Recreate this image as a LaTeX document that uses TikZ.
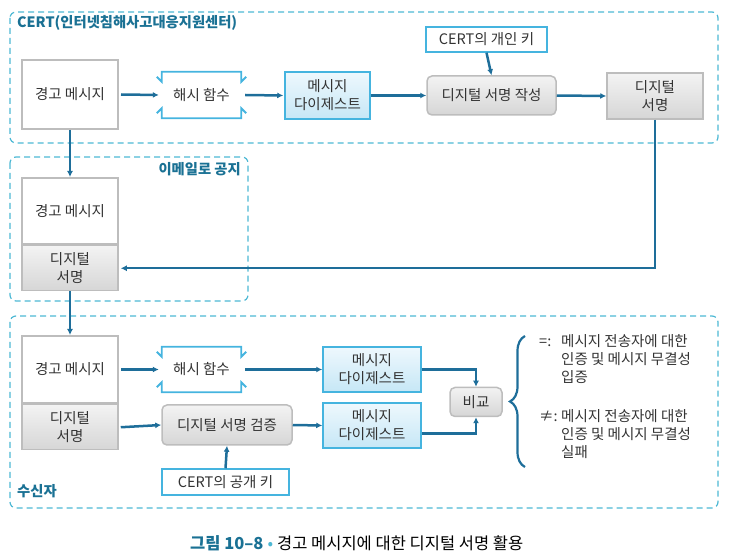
\documentclass[tikz,border=0pt]{standalone}
\usepackage{fontspec}
\setmainfont{Noto Sans CJK KR}
\usetikzlibrary{arrows.meta,calc,decorations.pathreplacing}
\definecolor{dashblue}{HTML}{4DB8D4}
\definecolor{arrowblue}{HTML}{1E6E9A}
\definecolor{titleteal}{HTML}{1A7194}
\definecolor{boxblue}{HTML}{45B4DF}
\definecolor{bluetop}{HTML}{EEF8FD}
\definecolor{bluebot}{HTML}{C6E7F6}
\definecolor{graytop}{HTML}{F3F3F3}
\definecolor{graybot}{HTML}{D6D6D6}
\definecolor{grayline}{HTML}{BDBDBD}
\definecolor{txt}{HTML}{333333}
\tikzset{
  base/.style={font=\fontsize{14.5}{18}\selectfont, text=txt, align=center, inner sep=0pt},
  whitebox/.style={base, draw=grayline, line width=2pt, fill=white},
  graybox/.style={base, draw=grayline, line width=1.5pt, top color=graytop, bottom color=graybot},
  grayround/.style={graybox, rounded corners=5pt},
  bluebox/.style={base, draw=boxblue, line width=1.5pt, top color=bluetop, bottom color=bluebot},
  keybox/.style={base, draw=boxblue, line width=1.5pt, fill=white},
  hashbox/.style={base},
  hashline/.style={draw=boxblue, line width=1.8pt},
  group/.style={draw=dashblue, line width=1.2pt, dash pattern=on 6pt off 4pt, rounded corners=6pt},
  grouptitle/.style={font=\fontsize{14.3}{16}\selectfont\bfseries, text=titleteal, inner sep=0pt},
  arr/.style={draw=arrowblue, line width=2.5pt, -{Latex[length=6pt,width=6pt]}},
}
\newcommand{\hashshape}[1]{%
  \draw[hashline] ($(#1.north west)+(-5,-5)$) -- ($(#1.north west)+(0,-10)$) -- (#1.north west) -- (#1.north east) -- ($(#1.north east)+(0,-10)$) -- ($(#1.north east)+(5,-5)$);
  \draw[hashline] ($(#1.south west)+(-5,5)$) -- ($(#1.south west)+(0,10)$) -- (#1.south west) -- (#1.south east) -- ($(#1.south east)+(0,10)$) -- ($(#1.south east)+(5,5)$);
}
\begin{document}
\begin{tikzpicture}[x=1pt,y=1pt]
\useasboundingbox (0,0) rectangle (732,-556);
% group frames
\draw[group] (10,-12) rectangle (718,-143);
\draw[group] (10,-157) rectangle (248,-301);
\draw[group] (10,-316) rectangle (718,-508);
\node[grouptitle, anchor=west] (t1) at (17,-23) {CERT(인터넷침해사고대응지원센터)};
\node[grouptitle, anchor=east] (t2) at (241,-169) {이메일로 공지};
\node[grouptitle, anchor=west] (t3) at (17,-491) {수신자};

% top row
\node[whitebox, minimum width=96pt, minimum height=69pt] (m1) at (70,-94.5) {경고 메시지};
\node[hashbox, minimum width=79pt, minimum height=46pt] (h1) at (201.5,-95) {해시 함수};
\hashshape{h1}
\node[bluebox, minimum width=85pt, minimum height=47pt] (d1) at (327.5,-95.5) {메시지\\다이제스트};
\node[keybox, minimum width=121pt, minimum height=25pt] (k1) at (486.5,-39.5) {CERT의 개인 키};
\node[grayround, minimum width=129pt, minimum height=39pt] (s1) at (491.5,-95.5) {디지털 서명 작성};
\node[graybox, minimum width=96pt, minimum height=46pt] (ds1) at (655,-96) {디지털\\서명};
\draw[arr] ($(m1.east)+(2,0)$) -- ($(h1.west)+(-3,0)$);
\draw[arr] ($(h1.east)+(4,0)$) -- ($(d1.west)+(-1,0)$);
\draw[arr] (d1.east) -- (s1.west);
\draw[arr] (s1.east) -- (ds1.west);
\draw[arr] (k1.south) -- (s1.north);

% email group
\node[whitebox, minimum width=96pt, minimum height=66pt] (m2) at (70,-211) {경고 메시지};
\node[graybox, minimum width=96pt, minimum height=45pt, anchor=north] (ds2) at (m2.south) {디지털\\서명};
\draw[arr] (m1.south) -- (m2.north);
\draw[arr] (ds1.south) |- ($(ds2.east)+(2,0)$);

% receiver group
\node[whitebox, minimum width=96pt, minimum height=67pt] (m3) at (70,-369.5) {경고 메시지};
\node[graybox, minimum width=96pt, minimum height=45pt, anchor=north] (ds3) at (m3.south) {디지털\\서명};
\draw[arr] (ds2.south) -- (m3.north);
\node[hashbox, minimum width=79pt, minimum height=45pt] (h3) at (201.5,-369.5) {해시 함수};
\hashshape{h3}
\node[grayround, minimum width=130pt, minimum height=40pt] (vf) at (227,-425) {디지털 서명 검증};
\node[keybox, minimum width=127pt, minimum height=26pt] (pk) at (225.5,-482) {CERT의 공개 키};
\node[bluebox, minimum width=98pt, minimum height=45pt] (d3a) at (372,-369.5) {메시지\\다이제스트};
\node[bluebox, minimum width=98pt, minimum height=45pt] (d3b) at (372,-425.5) {메시지\\다이제스트};
\node[grayround, minimum width=52pt, minimum height=29pt] (cmp) at (476,-402) {비교};
\draw[arr] ($(m3.east)+(2,0)$) -- ($(h3.west)+(-3,0)$);
\draw[arr] ($(h3.east)+(4,0)$) -- (d3a.west);
\draw[arr] ($(ds3.east)+(2,0)$) -- (vf.west);
\draw[arr] (vf.east) -- (d3b.west);
\draw[arr] (pk.north) -- (vf.south);
\draw[arr] (d3a.east) -| (cmp.north);
\coordinate (d3bout) at ($(d3b.east)+(0,-8)$);
\draw[arr] (d3bout) -| (cmp.south);

% brace and result text
\draw[draw=arrowblue, line width=2.2pt, decorate, decoration={brace, amplitude=15pt}] (525,-467) -- (525,-336);
\node[base, anchor=north west, align=left] (r1) at (539,-334) {%
  \begin{tabular}{@{}p{14pt}@{\hspace{8pt}}l@{}}=: & 메시지 전송자에 대한\\ & 인증 및 메시지 무결성\\ & 입증\end{tabular}};
\node[base, anchor=north west, align=left] (r2) at (539,-409) {%
  \begin{tabular}{@{}p{14pt}@{\hspace{8pt}}l@{}}≠: & 메시지 전송자에 대한\\ & 인증 및 메시지 무결성\\ & 실패\end{tabular}};

% caption
\node[font=\fontsize{16.5}{18}\selectfont, inner sep=0pt, anchor=west] (cap) at (190,-543) {{\bfseries\color{titleteal}그림 10–8}\hspace{4pt}{\color{dashblue}•}\hspace{4pt}{\color{black}경고 메시지에 대한 디지털 서명 활용}};
\end{tikzpicture}
\end{document}
